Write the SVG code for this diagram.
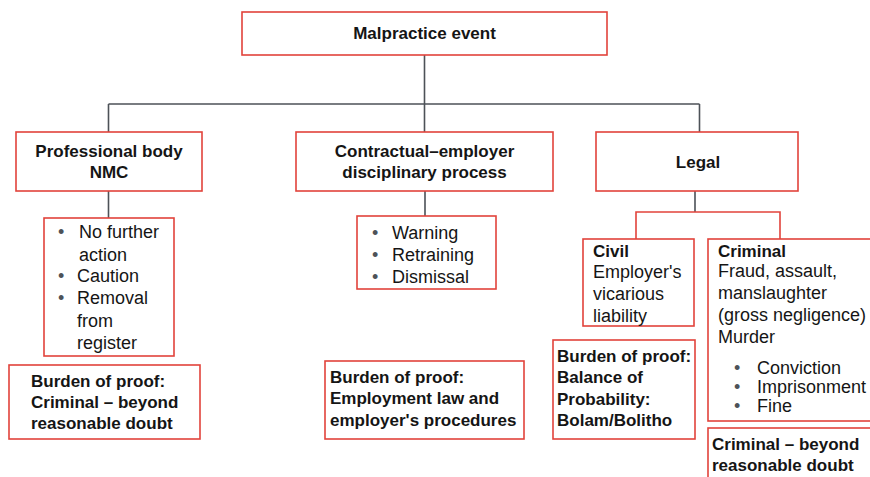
<svg xmlns="http://www.w3.org/2000/svg" width="870" height="477" viewBox="0 0 870 477">
<style>
.box{fill:#fff;stroke:#e2433b;stroke-width:1.6}
.ln{fill:none;stroke:#4d5258;stroke-width:1.6}
.rl{fill:none;stroke:#e2433b;stroke-width:1.6}
text{font-family:"Liberation Sans",Arial,sans-serif;fill:#151515}
.b{font-weight:bold;font-size:17px}
.r{font-size:18px}
.c{text-anchor:middle}
.bu{fill:#4d5258}
</style>
<rect width="870" height="477" fill="#fff"/>
<g id="connectors">
<path class="ln" d="M424.5 55V132M108.5 104H699.5M108.5 104V132M699.5 104V132"/>
<path class="ln" d="M108.5 191V218M425 191V216M695 191V212"/>
<path class="rl" d="M636 239V212H780V239"/>
</g>
<g id="malpractice">
<rect class="box" x="242" y="12" width="365" height="43"/>
<text class="b c" x="424.5" y="39">Malpractice event</text>
</g>
<g id="professional">
<rect class="box" x="16" y="132" width="186" height="59"/>
<text class="b c" x="109" y="157">Professional body</text>
<text class="b c" x="109" y="178">NMC</text>
</g>
<g id="contractual">
<rect class="box" x="296" y="132" width="257" height="59"/>
<text class="b c" x="424.5" y="157">Contractual–employer</text>
<text class="b c" x="424.5" y="178">disciplinary process</text>
</g>
<g id="legal">
<rect class="box" x="596" y="132" width="202" height="59"/>
<text class="b c" x="698" y="168">Legal</text>
</g>
<g id="nmc-outcomes">
<rect class="box" x="44" y="218" width="130" height="138"/>
<text class="r"><tspan class="bu" x="58" y="238">•</tspan><tspan x="79" y="238">No further</tspan><tspan x="79" y="261">action</tspan><tspan class="bu" x="58" y="282">•</tspan><tspan x="77" y="282">Caution</tspan><tspan class="bu" x="58" y="304">•</tspan><tspan x="77" y="304">Removal</tspan><tspan x="77" y="327">from</tspan><tspan x="77" y="349">register</tspan></text>
</g>
<g id="nmc-burden">
<rect class="box" x="9" y="365" width="191" height="74"/>
<text class="b"><tspan x="31" y="387">Burden of proof:</tspan><tspan x="31" y="408">Criminal – beyond</tspan><tspan x="31" y="429">reasonable doubt</tspan></text>
</g>
<g id="employer-outcomes">
<rect class="box" x="357" y="216" width="139" height="73"/>
<text class="r"><tspan class="bu" x="372" y="239">•</tspan><tspan x="392" y="239">Warning</tspan><tspan class="bu" x="372" y="261">•</tspan><tspan x="392" y="261">Retraining</tspan><tspan class="bu" x="372" y="283">•</tspan><tspan x="392" y="283">Dismissal</tspan></text>
</g>
<g id="employer-burden">
<rect class="box" x="325" y="361" width="199" height="78"/>
<text class="b"><tspan x="330" y="383">Burden of proof:</tspan><tspan x="330" y="404">Employment law and</tspan><tspan x="330" y="426">employer's procedures</tspan></text>
</g>
<g id="civil">
<rect class="box" x="583" y="239" width="111" height="87"/>
<text class="r"><tspan class="b" x="593" y="257">Civil</tspan><tspan x="593" y="278">Employer's</tspan><tspan x="593" y="300">vicarious</tspan><tspan x="593" y="322">liability</tspan></text>
</g>
<g id="civil-burden">
<rect class="box" x="553" y="340" width="142" height="99"/>
<text class="b"><tspan x="557" y="362">Burden of proof:</tspan><tspan x="557" y="383">Balance of</tspan><tspan x="557" y="405">Probability:</tspan><tspan x="557" y="426">Bolam/Bolitho</tspan></text>
</g>
<g id="criminal">
<rect class="box" x="708" y="239" width="175" height="182"/>
<text class="r"><tspan class="b" x="718" y="257">Criminal</tspan><tspan x="718" y="277">Fraud, assault,</tspan><tspan x="718" y="299">manslaughter</tspan><tspan x="718" y="321">(gross negligence)</tspan><tspan x="718" y="343">Murder</tspan><tspan class="bu" x="734" y="374">•</tspan><tspan x="757" y="374">Conviction</tspan><tspan class="bu" x="734" y="393">•</tspan><tspan x="757" y="393">Imprisonment</tspan><tspan class="bu" x="734" y="412">•</tspan><tspan x="757" y="412">Fine</tspan></text>
</g>
<g id="criminal-burden">
<rect class="box" x="708" y="428" width="175" height="60"/>
<text class="b"><tspan x="712" y="450">Criminal – beyond</tspan><tspan x="712" y="471">reasonable doubt</tspan></text>
</g>
</svg>
